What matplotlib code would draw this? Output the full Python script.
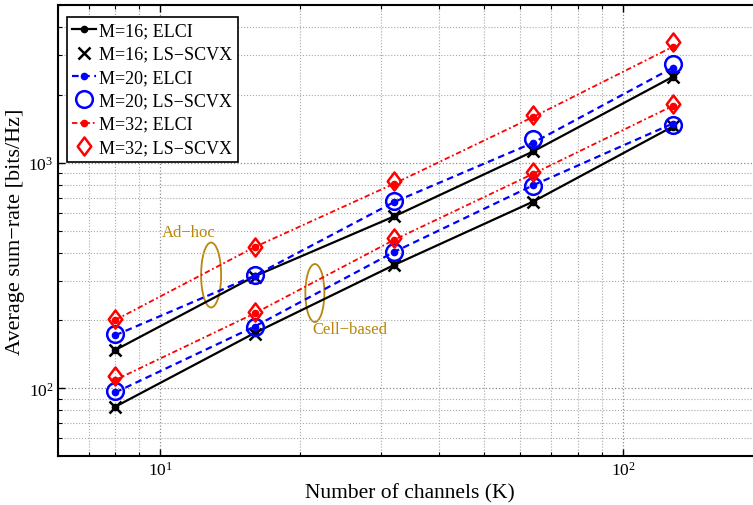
import numpy as np
import matplotlib
matplotlib.use("Agg")
import matplotlib.pyplot as plt
from matplotlib.patches import Ellipse
from matplotlib.path import Path

plt.rcParams["font.family"] = ["Liberation Serif", "DejaVu Serif"]
plt.rcParams["mathtext.fontset"] = "stix"

# Data (log-log)
K = [8, 16, 32, 64, 128]

# Ad-hoc group (upper curves)
m16_elci_adhoc = [148, 314, 578, 1123, 2400]
m16_ls_adhoc = [148, 312, 578, 1123, 2400]
m20_elci_adhoc = [172, 316, 669, 1227, 2634]
m20_ls_adhoc = [174, 318, 680, 1269, 2731]
m32_elci_adhoc = [201, 423, 807, 1596, 3260]
m32_ls_adhoc = [203, 423, 826, 1633, 3410]

# Cell-based group (lower curves)
m16_elci_cell = [83, 176, 352, 673, 1445]
m16_ls_cell = [83, 175, 352, 673, 1460]
m20_elci_cell = [96, 188, 402, 795, 1490]
m20_ls_cell = [97, 188, 404, 785, 1475]
m32_elci_cell = [109, 215, 455, 894, 1785]
m32_ls_cell = [114, 217, 463, 909, 1827]

labels = ["M=16; ELCI", "M=16; LS\u2212SCVX", "M=20; ELCI",
          "M=20; LS\u2212SCVX", "M=32; ELCI", "M=32; LS\u2212SCVX"]

# tall diamond like matlab's 'd'
diamond = Path([(0, 1), (0.75, 0), (0, -1), (-0.75, 0), (0, 1)],
               [Path.MOVETO, Path.LINETO, Path.LINETO, Path.LINETO, Path.CLOSEPOLY])

fig = plt.figure(figsize=(7.53, 5.06), dpi=100)
ax = fig.add_axes([0.0764, 0.0962, 0.936, 0.892])

styles = [
    dict(color="black", ls="-", lw=1.6, marker=".", ms=9),
    dict(color="black", ls="none", marker="x", ms=8, mew=1.8),
    dict(color="blue", ls=(0, (3, 2)), lw=1.6, marker=".", ms=9),
    dict(color="blue", ls="none", marker="o", ms=12, mfc="none", mew=1.8),
    dict(color="red", ls=(0, (3, 1.5, 1, 1.5)), lw=1.3, marker=".", ms=9),
    dict(color="red", ls="none", marker=diamond, ms=13, mfc="none", mew=1.8),
]
adhoc = [m16_elci_adhoc, m16_ls_adhoc, m20_elci_adhoc, m20_ls_adhoc, m32_elci_adhoc, m32_ls_adhoc]
cell = [m16_elci_cell, m16_ls_cell, m20_elci_cell, m20_ls_cell, m32_elci_cell, m32_ls_cell]

for i in range(6):
    ax.plot(K, adhoc[i], label=labels[i], **styles[i])
    ax.plot(K, cell[i], **styles[i])

ax.set_xscale("log")
ax.set_yscale("log")
ax.set_xlim(6, 200)
ax.set_ylim(50, 5000)

ax.grid(True, which="major", ls=":", color="#8c8c8c", lw=0.9)
ax.grid(True, which="minor", ls=":", color="#a8a8a8", lw=0.8)
ax.tick_params(which="both", direction="in", top=True, right=True, labelsize=12.5)
ax.tick_params(axis="y", which="major", pad=3)
ax.tick_params(which="major", length=5, width=1)
ax.tick_params(which="minor", length=3, width=0.8)
ax.yaxis.set_minor_formatter(plt.NullFormatter())
ax.xaxis.set_minor_formatter(plt.NullFormatter())
for s in ax.spines.values():
    s.set_linewidth(1.5)

ax.set_xlabel("Number of channels (K)", fontsize=15.5, labelpad=3)
ax.set_ylabel("Average sum\u2212rate [bits/Hz]", fontsize=16)
ax.yaxis.set_label_coords(-0.046, 0.5)

# Group annotations
gold = "#b8860b"
ax.add_patch(Ellipse((0.2179, 0.4017), 0.0284, 0.144, transform=ax.transAxes,
                     fill=False, ec=gold, lw=1.3))
ax.add_patch(Ellipse((0.3651, 0.3618), 0.027, 0.1285, transform=ax.transAxes,
                     fill=False, ec=gold, lw=1.3))
ax.text(0.1867, 0.497, "Ad\u2212hoc", transform=ax.transAxes, color=gold,
        fontsize=12, ha="center", va="center")
ax.text(0.3612, 0.282, "Cell\u2212based", transform=ax.transAxes, color=gold,
        fontsize=12, ha="left", va="center")

leg = ax.legend(loc="upper left", bbox_to_anchor=(0.013, 0.973), borderaxespad=0,
                fontsize=13, handlelength=1.3, handletextpad=0.2, labelspacing=0.35,
                borderpad=0.3, fancybox=False, framealpha=1, edgecolor="black")
leg.get_frame().set_linewidth(1.2)

fig.savefig("out.png", dpi=100)
